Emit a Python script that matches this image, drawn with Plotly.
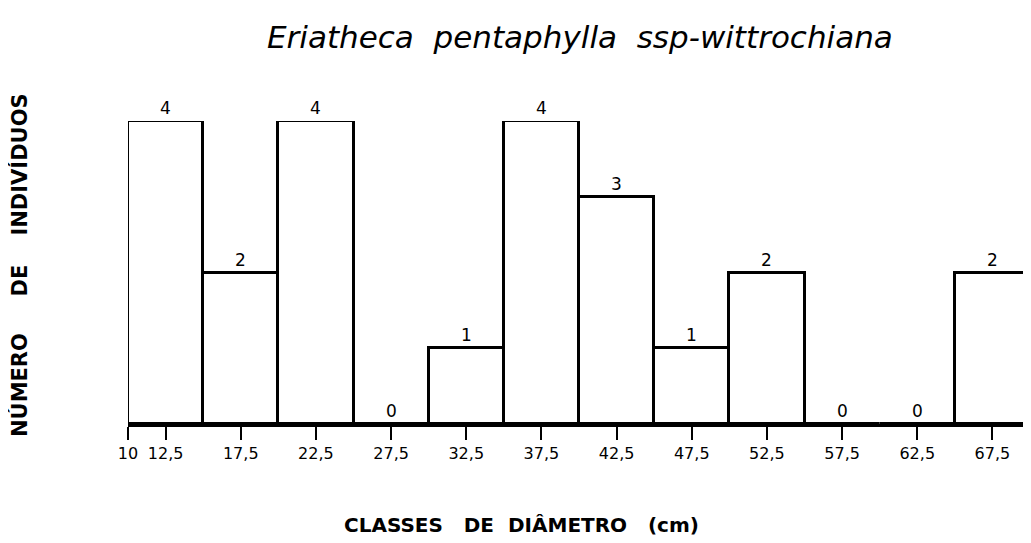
import plotly.graph_objects as go

class_centers = [12.5, 17.5, 22.5, 27.5, 32.5, 37.5, 42.5, 47.5, 52.5, 57.5, 62.5, 67.5]
counts = [4, 2, 4, 0, 1, 4, 3, 1, 2, 0, 0, 2]
tick_values = [10, 12.5, 17.5, 22.5, 27.5, 32.5, 37.5, 42.5, 47.5, 52.5, 57.5, 62.5, 67.5]
tick_labels = ["10", "12,5", "17,5", "22,5", "27,5", "32,5", "37,5", "42,5", "47,5",
               "52,5", "57,5", "62,5", "67,5"]
class_width = 5

title_text = "Eriatheca  pentaphylla  ssp-wittrochiana"
x_title = "CLASSES   DE  DIÂMETRO   (cm)"
y_title = "NÚMERO     DE    INDIVÍDUOS"

W, H = 1023, 535
L, R, T, B = 120, 1, 113, 119
pw = W - L - R
ph = H - T - B

fig = go.Figure()
fig.add_trace(go.Bar(
    x=class_centers, y=counts, width=class_width,
    marker=dict(color="white", line=dict(color="black", width=3)),
    cliponaxis=False, showlegend=False, hoverinfo="skip",
))

for xc, v in zip(class_centers, counts):
    fig.add_annotation(x=xc, y=v, text=str(v), showarrow=False,
                       xref="x", yref="y", yanchor="bottom", yshift=1,
                       font=dict(family="DejaVu Sans", size=17, color="black"))

def px_x(px):
    return (px - L) / pw

def px_y(py):
    return (H - B - py) / ph

fig.add_annotation(text=title_text, xref="paper", yref="paper",
                   x=px_x(572), y=px_y(29), showarrow=False,
                   xanchor="center", yanchor="middle",
                   font=dict(family="DejaVu Sans", size=31, color="black", style="italic"))
fig.add_annotation(text=x_title, xref="paper", yref="paper",
                   x=px_x(513), y=px_y(517), showarrow=False,
                   xanchor="center", yanchor="middle",
                   font=dict(family="DejaVu Sans", size=20, color="black", weight="bold"))
fig.add_annotation(text=y_title, xref="paper", yref="paper",
                   x=px_x(11), y=px_y(257), showarrow=False, textangle=-90,
                   xanchor="center", yanchor="middle",
                   font=dict(family="DejaVu Sans", size=21, color="black", weight="bold"))

fig.update_layout(
    width=W, height=H,
    margin=dict(l=L, r=R, t=T, b=B),
    plot_bgcolor="white", paper_bgcolor="white",
    bargap=0,
    xaxis=dict(range=[10, 70], tickvals=tick_values, ticktext=tick_labels,
               showgrid=False, zeroline=False, showline=True, linecolor="black",
               linewidth=3, ticks="outside", ticklen=13, tickwidth=2, tickcolor="black",
               tickfont=dict(family="DejaVu Sans", size=16, color="black")),
    yaxis=dict(range=[0, 4], showgrid=False, zeroline=False, showline=False,
               showticklabels=False, ticks=""),
)

fig.write_html("out.html")
